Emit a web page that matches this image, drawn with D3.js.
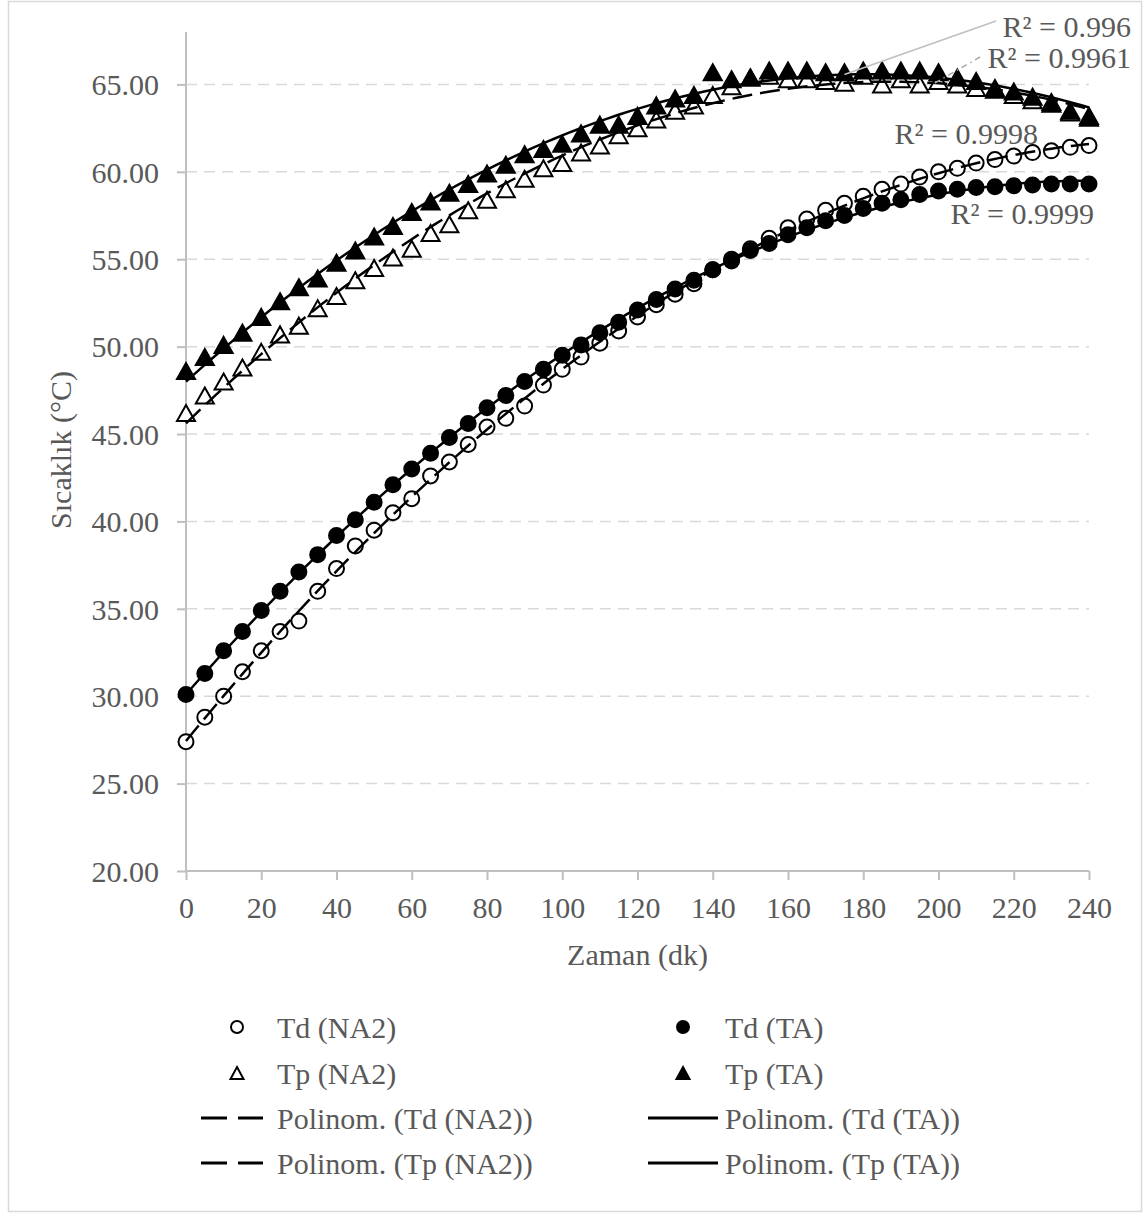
<!DOCTYPE html>
<html>
<head>
<meta charset="utf-8">
<script src="https://cdn.jsdelivr.net/npm/d3@7"></script>
<style>
  html, body { margin: 0; padding: 0; background: #ffffff; }
  svg text { font-family: "Liberation Serif", "Times New Roman", serif; fill: #595959; }
</style>
</head>
<body>
<svg id="chart" width="1146" height="1218"></svg>
<script>
// ---- data ----
const minutes = [0,5,10,15,20,25,30,35,40,45,50,55,60,65,70,75,80,85,90,95,100,105,110,115,120,
  125,130,135,140,145,150,155,160,165,170,175,180,185,190,195,200,205,210,215,220,225,230,235,240];

const tdNA2 = [27.4,28.8,30.0,31.4,32.6,33.7,34.3,36.0,37.3,38.6,39.5,40.5,41.3,42.6,43.4,44.4,45.4,45.9,46.6,47.8,
  48.7,49.4,50.2,50.9,51.7,52.4,53.0,53.6,54.4,55.0,55.6,56.2,56.8,57.3,57.8,58.2,58.6,59.0,59.3,59.7,
  60.0,60.2,60.5,60.7,60.9,61.1,61.2,61.4,61.5];
const tdTA = [30.1,31.3,32.6,33.7,34.9,36.0,37.1,38.1,39.2,40.1,41.1,42.1,43.0,43.9,44.8,45.6,46.5,47.2,48.0,48.7,
  49.5,50.1,50.8,51.4,52.1,52.7,53.3,53.8,54.4,54.9,55.5,55.9,56.4,56.8,57.2,57.5,57.9,58.2,58.4,58.7,
  58.9,59.0,59.1,59.15,59.2,59.25,59.3,59.3,59.3];
const tpNA2 = [46.2,47.2,48.0,48.8,49.7,50.7,51.2,52.2,52.9,53.8,54.5,55.1,55.6,56.5,57.0,57.8,58.4,59.0,59.6,60.2,
  60.5,61.1,61.5,62.1,62.5,63.0,63.5,63.8,64.4,64.9,65.4,65.5,65.3,65.3,65.2,65.1,65.5,65.0,65.3,65.0,
  65.2,65.0,64.8,64.7,64.4,64.1,63.9,63.4,63.2];
const tpTA = [48.6,49.4,50.1,50.8,51.7,52.6,53.4,53.9,54.8,55.5,56.3,56.9,57.7,58.3,58.8,59.3,59.9,60.4,61.0,61.3,
  61.6,62.2,62.7,62.7,63.2,63.8,64.2,64.4,65.7,65.3,65.4,65.8,65.8,65.8,65.7,65.7,65.8,65.8,65.8,65.8,
  65.7,65.4,65.2,64.8,64.6,64.3,64.0,63.5,63.1];

const seriesNames = ["Td (NA2)", "Td (TA)", "Tp (NA2)", "Tp (TA)"];
const trendNames = ["Polinom. (Td (NA2))", "Polinom. (Td (TA))", "Polinom. (Tp (NA2))", "Polinom. (Tp (TA))"];
const r2Labels = ["R² = 0.9998", "R² = 0.9999", "R² = 0.9961", "R² = 0.996"];
const yTicks = [20,25,30,35,40,45,50,55,60,65];
const xTicks = [0,20,40,60,80,100,120,140,160,180,200,220,240];

// ---- setup ----
const svg = d3.select("#chart");
const x = d3.scaleLinear().domain([0, 240]).range([186, 1089]);
const y = d3.scaleLinear().domain([20, 68]).range([871, 32]);

const series = [
  {name: seriesNames[0], values: tdNA2, shape: "circle", fill: "#ffffff", dash: "20,8"},
  {name: seriesNames[1], values: tdTA, shape: "circle", fill: "#000000", dash: null},
  {name: seriesNames[2], values: tpNA2, shape: "triangle", fill: "#ffffff", dash: "20,8"},
  {name: seriesNames[3], values: tpTA, shape: "triangle", fill: "#000000", dash: null}
];

// chart border
svg.append("rect").attr("x", 8.5).attr("y", 1.5).attr("width", 1133).attr("height", 1210)
  .attr("fill", "#fff").attr("stroke", "#d9d9d9").attr("stroke-width", 1.5);

// gridlines
svg.append("g").selectAll("line").data(yTicks.filter(t => t > 20)).join("line")
  .attr("x1", x(0)).attr("x2", x(240)).attr("y1", d => y(d)).attr("y2", d => y(d))
  .attr("stroke", "#d9d9d9").attr("stroke-width", 1.5).attr("stroke-dasharray", "11,7");

// axes
const yAxis = d3.axisLeft(y).tickValues(yTicks).tickFormat(d3.format(".2f")).tickSize(9).tickPadding(18);
const gy = svg.append("g").attr("transform", `translate(${x(0)},0)`).call(yAxis);
const xAxis = d3.axisBottom(x).tickValues(xTicks).tickSize(9).tickPadding(17);
const gx = svg.append("g").attr("transform", `translate(0,${y(20)})`).call(xAxis);
[gx, gy].forEach(g => {
  g.select(".domain").attr("stroke", "#bfbfbf").attr("stroke-width", 2);
  g.selectAll(".tick line").attr("stroke", "#bfbfbf").attr("stroke-width", 2);
  g.selectAll(".tick text").attr("fill", "#595959").style("font-size", "30px")
    .style("font-family", '"Liberation Serif", serif');
});
gy.select(".domain").attr("d", `M0,${y(68)}V${y(20)}`);
gx.select(".domain").attr("d", `M${x(0)},0H${x(240)}`);
gy.selectAll(".tick text").attr("dy", "0.34em");
gx.selectAll(".tick text").attr("dy", "0.71em");

// axis titles
svg.append("text").attr("x", x(120)).attr("y", 965).attr("text-anchor", "middle")
  .style("font-size", "30px").text("Zaman (dk)");
svg.append("text").attr("transform", `translate(71,450) rotate(-90)`).attr("text-anchor", "middle")
  .style("font-size", "30px").text("Sıcaklık (°C)");

// markers
function triPath(w, h) { return `M0,${-h/2}L${w/2},${h/2}L${-w/2},${h/2}Z`; }
series.forEach(s => {
  const g = svg.append("g");
  const pts = minutes.map((m, i) => ({m, v: s.values[i]}));
  if (s.shape === "circle") {
    g.selectAll("circle").data(pts).join("circle")
      .attr("cx", d => x(d.m)).attr("cy", d => y(d.v)).attr("r", 7.5)
      .attr("fill", s.fill).attr("stroke", "#000").attr("stroke-width", 2);
  } else {
    g.selectAll("path").data(pts).join("path")
      .attr("transform", d => `translate(${x(d.m)},${y(d.v)})`)
      .attr("d", triPath(18, 16))
      .attr("fill", s.fill).attr("stroke", "#000").attr("stroke-width", 2).attr("stroke-linejoin", "miter");
  }
});

// polynomial (order 2) least-squares trendlines
function polyFit(xs, ys) {
  let n = xs.length, s = [0,0,0,0,0], t = [0,0,0];
  for (let i = 0; i < n; i++) {
    let p = 1;
    for (let k = 0; k < 5; k++) { s[k] += p; if (k < 3) t[k] += p * ys[i]; p *= xs[i]; }
  }
  const A = [[s[0],s[1],s[2],t[0]],[s[1],s[2],s[3],t[1]],[s[2],s[3],s[4],t[2]]];
  for (let c = 0; c < 3; c++) {
    for (let r = c + 1; r < 3; r++) {
      const f = A[r][c] / A[c][c];
      for (let k = c; k < 4; k++) A[r][k] -= f * A[c][k];
    }
  }
  const co = [0,0,0];
  for (let r = 2; r >= 0; r--) {
    let v = A[r][3];
    for (let k = r + 1; k < 3; k++) v -= A[r][k] * co[k];
    co[r] = v / A[r][r];
  }
  return xx => co[0] + co[1]*xx + co[2]*xx*xx;
}
const fits = series.map(s => polyFit(minutes, s.values));
const line = d3.line().x(d => x(d[0])).y(d => y(d[1]));
const sampleX = d3.range(0, 240.01, 2);
series.forEach((s, i) => {
  svg.append("path").attr("d", line(sampleX.map(m => [m, fits[i](m)])))
    .attr("fill", "none").attr("stroke", "#000").attr("stroke-width", 2.5)
    .attr("stroke-dasharray", s.dash);
});

// R² labels
const r2 = svg.append("g").style("font-size", "30px");
// leader lines
svg.append("line").attr("x1", x(175)).attr("y1", y(fits[3](175))).attr("x2", 996).attr("y2", 21)
  .attr("stroke", "#bfbfbf").attr("stroke-width", 1.5);
svg.append("line").attr("x1", x(199)).attr("y1", y(fits[2](199))).attr("x2", 980).attr("y2", 57)
  .attr("stroke", "#a6a6a6").attr("stroke-width", 1.5).attr("stroke-dasharray", "6,4,1.5,4");
r2.append("text").attr("x", 1131).attr("y", 37).attr("text-anchor", "end").text(r2Labels[3]);
r2.append("text").attr("x", 1131).attr("y", 68).attr("text-anchor", "end").text(r2Labels[2]);
r2.append("text").attr("x", 1038).attr("y", 144).attr("text-anchor", "end").text(r2Labels[0]);
r2.append("text").attr("x", 1094).attr("y", 224).attr("text-anchor", "end").text(r2Labels[1]);

// legend
const legend = svg.append("g");
const rowsY = [1027, 1073, 1118, 1163];
const cols = [{mx: 237, l1: 201, l2: 263, tx: 277}, {mx: 683, l1: 648, l2: 718, tx: 725}];
const legendItems = [
  {col: 0, row: 0, kind: "marker", s: series[0], label: seriesNames[0]},
  {col: 1, row: 0, kind: "marker", s: series[1], label: seriesNames[1]},
  {col: 0, row: 1, kind: "marker", s: series[2], label: seriesNames[2]},
  {col: 1, row: 1, kind: "marker", s: series[3], label: seriesNames[3]},
  {col: 0, row: 2, kind: "line", s: series[0], label: trendNames[0]},
  {col: 1, row: 2, kind: "line", s: series[1], label: trendNames[1]},
  {col: 0, row: 3, kind: "line", s: series[2], label: trendNames[2]},
  {col: 1, row: 3, kind: "line", s: series[3], label: trendNames[3]}
];
legendItems.forEach(it => {
  const c = cols[it.col], yy = rowsY[it.row];
  if (it.kind === "marker") {
    if (it.s.shape === "circle") {
      legend.append("circle").attr("cx", c.mx).attr("cy", yy).attr("r", 6)
        .attr("fill", it.s.fill).attr("stroke", "#000").attr("stroke-width", 2);
    } else {
      legend.append("path").attr("transform", `translate(${c.mx},${yy})`).attr("d", triPath(13, 12))
        .attr("fill", it.s.fill).attr("stroke", "#000").attr("stroke-width", 2);
    }
  } else {
    legend.append("line").attr("x1", c.l1).attr("x2", c.l2).attr("y1", yy).attr("y2", yy)
      .attr("stroke", "#000").attr("stroke-width", 3)
      .attr("stroke-dasharray", it.s.dash ? "26,11" : null);
  }
  legend.append("text").attr("x", c.tx).attr("y", yy).attr("dy", "0.35em")
    .style("font-size", "30px").text(it.label);
});
</script>
</body>
</html>
